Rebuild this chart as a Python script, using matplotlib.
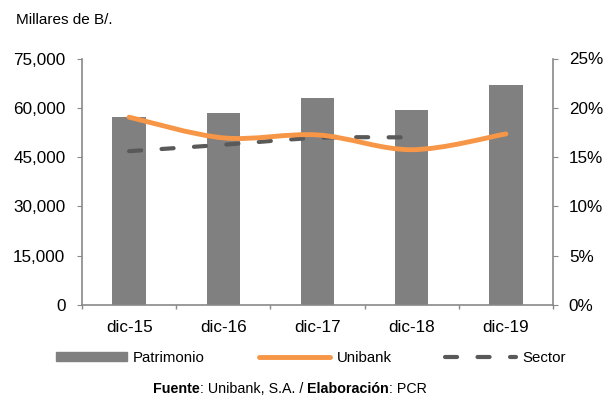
import matplotlib
matplotlib.use("Agg")
import matplotlib.pyplot as plt
import numpy as np
from matplotlib.path import Path
from matplotlib.patches import PathPatch, Rectangle
from matplotlib.ticker import FuncFormatter, MultipleLocator
from matplotlib.lines import Line2D
from matplotlib.offsetbox import TextArea, HPacker, AnchoredOffsetbox

categories = ["dic-15", "dic-16", "dic-17", "dic-18", "dic-19"]
patrimonio = [57200, 58500, 63100, 59200, 66900]
unibank = [19.05, 16.95, 17.25, 15.75, 17.35]
sector = [15.6, 16.25, 16.95, 17.0]

plt.rcParams['font.family'] = ['Liberation Sans', 'DejaVu Sans']

fig = plt.figure(figsize=(6.07, 3.96), dpi=100)
W, H = 607, 396
ax = fig.add_axes([82/W, 1 - 305/H, (553 - 82)/W, (305 - 58.5)/H])
ax2 = ax.twinx()

x = np.arange(len(categories))
ax.bar(x, patrimonio, width=0.355, color="#808080", zorder=2)
ax.set_xlim(-0.5, len(categories) - 0.5)
ax.set_ylim(0, 75000)
ax.yaxis.set_major_locator(MultipleLocator(15000))
ax.yaxis.set_major_formatter(FuncFormatter(lambda v, p: f"{int(v):,}"))
ax2.set_ylim(0, 25)
ax2.yaxis.set_major_locator(MultipleLocator(5))
ax2.yaxis.set_major_formatter(FuncFormatter(lambda v, p: f"{int(v)}%"))

spine_c = "#898989"
ax.set_xticks(x)
ax.set_xticklabels(categories)
ax.set_xticks(np.arange(-0.5, len(categories)), minor=True)
ax.tick_params(axis='x', which='major', length=0, labelsize=12.3, pad=11)
ax.tick_params(axis='x', which='minor', length=3.2, color=spine_c, width=1)

for a in (ax, ax2):
    for s in a.spines.values():
        s.set_visible(False)
ax.spines['left'].set_visible(True)
ax.spines['bottom'].set_visible(True)
ax2.spines['right'].set_visible(True)
for s in (ax.spines['left'], ax.spines['bottom'], ax2.spines['right']):
    s.set_color(spine_c)
    s.set_linewidth(1.2)
ax.tick_params(axis='y', length=3.4, color=spine_c, labelsize=12.3, pad=8.5)
ax2.tick_params(axis='y', length=3.4, color=spine_c, labelsize=12.3, pad=8)


def smooth_path(xs, ys):
    xs = np.asarray(xs, float)
    ys = np.asarray(ys, float)
    n = len(xs)
    verts = [(xs[0], ys[0])]
    codes = [Path.MOVETO]
    for i in range(n - 1):
        p0 = np.array([xs[max(i - 1, 0)], ys[max(i - 1, 0)]])
        p1 = np.array([xs[i], ys[i]])
        p2 = np.array([xs[i + 1], ys[i + 1]])
        p3 = np.array([xs[min(i + 2, n - 1)], ys[min(i + 2, n - 1)]])
        c1 = p1 + (p2 - p0) / 6.0
        c2 = p2 - (p3 - p1) / 6.0
        verts += [tuple(c1), tuple(c2), tuple(p2)]
        codes += [Path.CURVE4] * 3
    return Path(verts, codes)


orange = "#F79646"
dark = "#595959"
sector_dash = (0, (2.9, 4.9))

ax2.add_patch(PathPatch(smooth_path(x, unibank), facecolor='none',
                        edgecolor=orange, lw=3.5, capstyle='round', zorder=4))
ax2.add_patch(PathPatch(smooth_path(x[:len(sector)], sector), facecolor='none',
                        edgecolor=dark, lw=3.0, capstyle='round',
                        linestyle=sector_dash, zorder=3))

fig.text(16/W, 1 - 20/H, "Millares de B/.", fontsize=11, va='center', ha='left')

handles = [Rectangle((0, 0), 1, 1, color="#808080"),
           Line2D([0], [0], color=orange, lw=3.5, solid_capstyle='round'),
           Line2D([0], [0], color=dark, lw=3, linestyle=sector_dash,
                  dash_capstyle='round')]
fs_leg = 10.8
fig.legend(handles, ["Patrimonio", "Unibank", "Sector"], loc='center left',
           bbox_to_anchor=(56/W, 1 - 357.5/H), ncol=3, frameon=False,
           fontsize=fs_leg, handlelength=4.7, handleheight=0.55,
           columnspacing=3.6, handletextpad=0.45, borderpad=0, borderaxespad=0)

fs_src = 10.3
parts = [("Fuente", "bold"), (": Unibank, S.A. / ", "normal"),
         ("Elaboración", "bold"), (": PCR", "normal")]
boxes = [TextArea(t, textprops=dict(fontsize=fs_src, fontweight=w,
                                    family=['Liberation Sans', 'DejaVu Sans']))
         for t, w in parts]
pack = HPacker(children=boxes, align="baseline", pad=0, sep=0)
anch = AnchoredOffsetbox(loc='center', child=pack, frameon=False, pad=0,
                         borderpad=0, bbox_to_anchor=(290/W, 1 - 389/H),
                         bbox_transform=fig.transFigure)
fig.add_artist(anch)

fig.savefig("out.png", dpi=100)
